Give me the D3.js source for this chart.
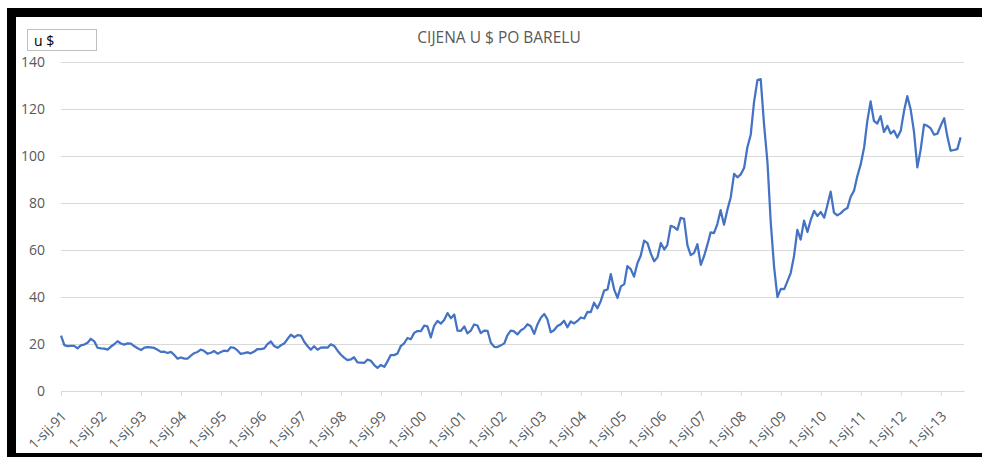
<!DOCTYPE html>
<html>
<head>
    <meta charset="utf-8">
    <title>Cijena nafte</title>
    <script src="https://cdn.jsdelivr.net/npm/d3@7/dist/d3.min.js"></script>
    <style type="text/css">
        html, body {
            margin: 0;
            padding: 0;
            background: #fff;
        }
        .chart text {
            font-family: "Open Sans", Arial, sans-serif;
            fill: #595959;
        }
    </style>
</head>
<body>
    <svg class="chart"></svg>

    <script type="text/javascript">
    // mjesecne cijene (USD po barelu), sijecanj 1991 - srpanj 2013
    var startYear = 1991;
    var years = ['91','92','93','94','95','96','97','98','99','00','01','02','03','04','05','06','07','08','09','10','11','12','13'];
    var yTicks = [0, 20, 40, 60, 80, 100, 120, 140];

    var p1991 = [23.57, 19.54, 19.08, 19.18, 19.19, 18.17, 19.40, 19.77, 20.50, 22.21, 21.11, 18.41];
    var p1992 = [18.16, 18.05, 17.63, 18.92, 19.89, 21.16, 20.22, 19.76, 20.24, 20.16, 19.02, 18.17];
    var p1993 = [17.44, 18.44, 18.67, 18.56, 18.32, 17.52, 16.65, 16.71, 16.17, 16.66, 15.33, 13.77];
    var p1994 = [14.28, 13.79, 13.73, 15.02, 16.09, 16.61, 17.64, 17.00, 15.85, 16.27, 17.01, 15.86];
    var p1995 = [16.59, 17.20, 16.94, 18.62, 18.32, 17.26, 15.76, 16.08, 16.45, 16.04, 16.79, 17.87];
    var p1996 = [17.85, 18.11, 19.94, 21.06, 19.13, 18.36, 19.43, 20.21, 22.21, 23.96, 22.87, 23.77];
    var p1997 = [23.54, 20.85, 19.13, 17.56, 19.02, 17.58, 18.46, 18.60, 18.46, 19.88, 19.17, 17.16];
    var p1998 = [15.44, 14.07, 13.14, 13.43, 14.35, 12.16, 12.06, 11.92, 13.38, 12.84, 11.04, 9.82];
    var p1999 = [11.09, 10.27, 12.50, 15.28, 15.27, 15.89, 19.07, 20.30, 22.55, 22.01, 24.73, 25.52];
    var p2000 = [25.50, 27.79, 27.48, 22.76, 27.74, 29.80, 28.68, 30.20, 33.14, 30.96, 32.55, 25.66];
    var p2001 = [25.62, 27.50, 24.50, 25.66, 28.31, 27.85, 24.61, 25.68, 25.62, 20.54, 18.80, 18.71];
    var p2002 = [19.42, 20.28, 23.70, 25.73, 25.35, 24.08, 25.74, 26.65, 28.40, 27.54, 24.34, 28.33];
    var p2003 = [31.18, 32.77, 30.61, 25.00, 25.86, 27.65, 28.35, 29.89, 27.11, 29.61, 28.75, 29.81];
    var p2004 = [31.28, 30.86, 33.63, 33.59, 37.57, 35.18, 38.22, 42.74, 43.20, 49.78, 43.11, 39.60];
    var p2005 = [44.51, 45.48, 53.10, 51.88, 48.65, 54.35, 57.52, 63.98, 62.91, 58.54, 55.24, 56.86];
    var p2006 = [62.99, 60.21, 62.06, 70.26, 69.78, 68.56, 73.67, 73.23, 61.96, 57.81, 58.76, 62.47];
    var p2007 = [53.68, 57.56, 62.05, 67.49, 67.21, 71.05, 76.93, 70.76, 77.17, 82.34, 92.41, 90.93];
    var p2008 = [92.18, 94.99, 103.64, 109.07, 122.80, 132.32, 132.72, 113.24, 97.23, 71.58, 52.45, 39.95];
    var p2009 = [43.44, 43.32, 46.54, 50.18, 57.30, 68.61, 64.44, 72.51, 67.65, 72.77, 76.66, 74.46];
    var p2010 = [76.17, 73.75, 78.83, 84.82, 75.95, 74.76, 75.58, 77.04, 77.84, 82.67, 85.28, 91.45];
    var p2011 = [96.52, 103.72, 114.64, 123.26, 114.99, 113.83, 116.97, 110.22, 112.83, 109.55, 110.77, 107.87];
    var p2012 = [110.69, 119.33, 125.45, 119.75, 110.34, 95.16, 102.62, 113.36, 112.86, 111.71, 109.06, 109.49];
    var p2013 = [112.96, 116.05, 108.47, 102.25, 102.56, 102.92, 107.93];

    var prices = [].concat(p1991, p1992, p1993, p1994, p1995, p1996, p1997, p1998,
        p1999, p2000, p2001, p2002, p2003, p2004, p2005, p2006, p2007, p2008,
        p2009, p2010, p2011, p2012, p2013);

    var width = 982;
    var height = 457;
    var plotLeft = 61, plotRight = 964, plotTop = 62, plotBottom = 391;

    var data = prices.map(function (v, i) {
        return { date: new Date(startYear, i, 1), value: v };
    });

    var x = d3.scaleTime()
        .domain([new Date(startYear, 0, 1), new Date(2013, 7, 1)])
        .range([plotLeft, plotRight]);

    var y = d3.scaleLinear()
        .domain([0, 140])
        .range([plotBottom, plotTop]);

    var chart = d3.select('.chart')
        .attr('width', width)
        .attr('height', height);

    // okvir
    chart.append('rect')
        .attr('x', 0).attr('y', 0)
        .attr('width', width).attr('height', height)
        .attr('fill', '#fff');
    chart.append('rect')
        .attr('x', 7).attr('y', 8)
        .attr('width', width - 7).attr('height', 9)
        .attr('fill', '#000');
    chart.append('rect')
        .attr('x', 7).attr('y', 8)
        .attr('width', 9).attr('height', height - 8)
        .attr('fill', '#000');
    chart.append('rect')
        .attr('x', 7).attr('y', 453)
        .attr('width', width - 7).attr('height', 4)
        .attr('fill', '#000');

    // y os i mreza
    var yAxis = d3.axisLeft(y)
        .tickValues(yTicks)
        .tickSize(-(plotRight - plotLeft))
        .tickPadding(16);

    var gy = chart.append('g')
        .attr('transform', 'translate(' + plotLeft + ',0)')
        .call(yAxis);
    gy.select('.domain').remove();
    gy.selectAll('.tick line')
        .attr('stroke', '#d9d9d9');
    gy.selectAll('.tick text')
        .style('font-size', '14px');

    // x os
    var yearTicks = years.map(function (d, i) { return new Date(startYear + i, 0, 1); });
    var xAxis = d3.axisBottom(x)
        .tickValues(yearTicks)
        .tickSize(5)
        .tickSizeOuter(0)
        .tickFormat(function (d, i) { return '1-sij-' + years[i]; });

    var gx = chart.append('g')
        .attr('transform', 'translate(0,' + plotBottom + ')')
        .call(xAxis);
    gx.select('.domain').attr('stroke', '#d9d9d9');
    gx.selectAll('.tick line').attr('stroke', '#d9d9d9');
    gx.selectAll('.tick text')
        .style('font-size', '14px')
        .attr('text-anchor', 'end')
        .attr('dx', 0)
        .attr('dy', 0)
        .attr('y', 0)
        .attr('transform', 'translate(6,26) rotate(-45)');

    // linija
    var line = d3.line()
        .x(function (d) { return x(d.date); })
        .y(function (d) { return y(d.value); });

    chart.append('path')
        .datum(data)
        .attr('d', line)
        .attr('fill', 'none')
        .attr('stroke', '#4472c4')
        .attr('stroke-width', 2.25)
        .attr('stroke-linejoin', 'round');

    // naslov
    chart.append('text')
        .attr('x', 499)
        .attr('y', 43)
        .attr('text-anchor', 'middle')
        .style('font-size', '15.5px')
        .text('CIJENA U $ PO BARELU');

    // oznaka jedinice
    chart.append('rect')
        .attr('x', 27.5).attr('y', 29.5)
        .attr('width', 69).attr('height', 21)
        .attr('fill', '#fff')
        .attr('stroke', '#bfbfbf');
    chart.append('text')
        .attr('x', 34)
        .attr('y', 46)
        .style('font-size', '14px')
        .style('fill', '#000')
        .text('u $');
    </script>
</body>
</html>
